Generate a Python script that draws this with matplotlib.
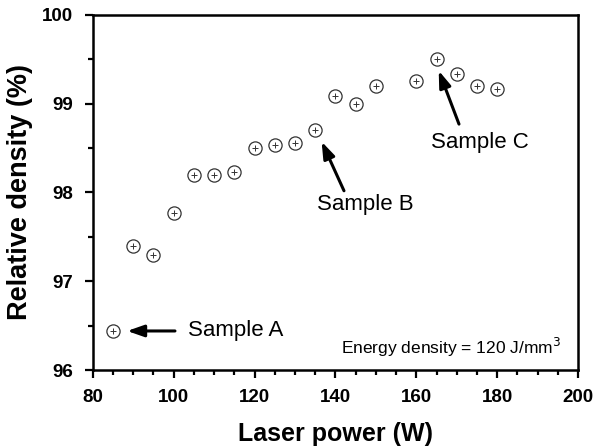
import numpy as np
import matplotlib.pyplot as plt
from matplotlib.ticker import MultipleLocator

plt.rcParams['font.family'] = ['Liberation Sans', 'DejaVu Sans']

# laser power (W) and relative density (%)
power = [85, 90, 95, 100, 105, 110, 115, 120, 125, 130, 135, 140, 145, 150,
         160, 165, 170, 175, 180]
density = [96.44, 97.40, 97.30, 97.77, 98.20, 98.20, 98.23, 98.50, 98.53, 98.56,
           98.70, 99.09, 99.00, 99.20, 99.25, 99.50, 99.33, 99.20, 99.17]

fig = plt.figure(figsize=(5.99, 4.48), dpi=100)
ax = fig.add_axes([0.155, 0.174, 0.81, 0.793])

ax.plot(power, density, ls='none', marker='o', ms=9.5, mfc='white',
        mec='#333333', mew=0.9)
ax.plot(power, density, ls='none', marker='+', ms=5, mec='#333333', mew=0.7)

arrow = dict(arrowstyle='-|>,head_length=1.0,head_width=0.35', color='black', lw=2.2)
ax.annotate('', xy=(87.8, 96.44), xytext=(101, 96.44), arrowprops=arrow)
ax.text(103.5, 96.44, 'Sample A', fontsize=16, va='center', ha='left')
ax.annotate('', xy=(136.3, 98.6), xytext=(142.4, 97.99), arrowprops=arrow)
ax.text(147.3, 97.86, 'Sample B', fontsize=16, va='center', ha='center')
ax.annotate('', xy=(165.3, 99.4), xytext=(170.8, 98.74), arrowprops=arrow)
ax.text(175.8, 98.56, 'Sample C', fontsize=16, va='center', ha='center')
ax.text(195.8, 96.25, 'Energy density = 120 J/mm$^3$', fontsize=12.5,
        va='center', ha='right')

ax.set_xlim(80, 200)
ax.set_ylim(96, 100)
ax.xaxis.set_major_locator(MultipleLocator(20))
ax.xaxis.set_minor_locator(MultipleLocator(5))
ax.yaxis.set_major_locator(MultipleLocator(1))
ax.yaxis.set_minor_locator(MultipleLocator(0.5))
ax.tick_params(which='both', direction='out', width=1.6, top=False, right=False)
ax.tick_params(which='major', length=6, labelsize=13.5, pad=8)
ax.tick_params(which='minor', length=3.5)
for lab in ax.get_xticklabels() + ax.get_yticklabels():
    lab.set_fontweight('bold')
for sp in ax.spines.values():
    sp.set_linewidth(1.8)

ax.set_xlabel('Laser power (W)', fontsize=18, fontweight='bold')
ax.set_ylabel('Relative density (%)', fontsize=19.5, fontweight='bold')
ax.xaxis.set_label_coords(0.5, -0.145)
ax.yaxis.set_label_coords(-0.124, 0.5)

fig.savefig('out.png', dpi=100)
